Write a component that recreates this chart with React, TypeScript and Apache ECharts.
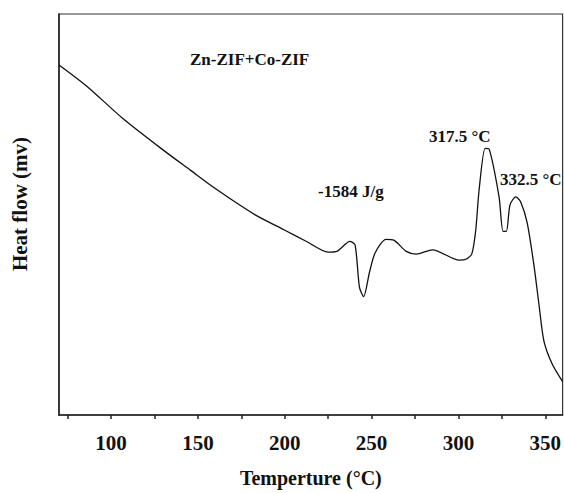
import React, { useEffect, useRef } from "react";
import * as echarts from "echarts";

const temperatures = [
  70, 86, 106.6, 129.3, 145.8, 160.2, 183, 199.5, 212, 225, 230, 237.5, 240.5, 243, 245.4,
  248.8, 252, 258.3, 262.8, 270, 275.7, 285.1, 300.5, 304.7, 307.8, 310, 311.9, 315.4,
  317.7, 323.4, 325.7, 327.6, 329.7, 333, 335.8, 339.6, 343.5, 346.4, 349.2, 354, 360,
];
const heatFlow = [
  8.73, 8.2, 7.4, 6.63, 6.1, 5.64, 4.99, 4.62, 4.34, 4.06, 4.08, 4.33, 4.24, 3.19, 2.95,
  3.56, 4.04, 4.38, 4.36, 4.08, 4.01, 4.12, 3.86, 3.89, 4.03, 4.62, 5.61, 6.65,
  6.63, 5.44, 4.58, 4.58, 5.24, 5.44, 5.32, 4.79, 3.73, 2.75, 1.85, 1.27, 0.83,
];
const majorTicks = [100, 150, 200, 250, 300, 350];
const minorTicks = [75, 100, 125, 150, 175, 200, 225, 250, 275, 300, 325, 350];
const sampleLabel = "Zn-ZIF+Co-ZIF";
const peakLabels = ["317.5 °C", "332.5 °C"];
const enthalpyLabel = "-1584 J/g";
const xTitle = "Temperture (°C)";
const yTitle = "Heat flow (mv)";

const FONT = "'Liberation Serif', 'Times New Roman', serif";

export default function App() {
  const ref = useRef<HTMLDivElement>(null);
  useEffect(() => {
    if (!ref.current) return;
    const chart = echarts.init(ref.current, undefined, { renderer: "svg" });
    const textStyle = (size: number) => ({
      fontFamily: FONT,
      fontWeight: "bold" as const,
      fontSize: size,
      fill: "#111",
    });
    chart.setOption({
      animation: false,
      backgroundColor: "#fff",
      grid: {
        left: 59,
        right: 1,
        top: 14,
        bottom: 71,
        show: true,
        borderColor: "#333",
        borderWidth: 1.2,
        backgroundColor: "transparent",
      },
      xAxis: {
        type: "value",
        min: 70,
        max: 360,
        name: xTitle,
        nameLocation: "middle",
        nameGap: 53,
        nameTextStyle: {
          fontFamily: FONT,
          fontWeight: "bold",
          fontSize: 20,
          color: "#111",
        },
        axisLine: { show: true, lineStyle: { color: "#222", width: 1.5 } },
        axisTick: {
          show: true,
          customValues: minorTicks,
          length: 4,
          lineStyle: { color: "#222", width: 1.5 },
        },
        axisLabel: {
          customValues: majorTicks,
          margin: 17,
          fontFamily: FONT,
          fontWeight: "bold",
          fontSize: 21,
          color: "#111",
        },
        splitLine: { show: false },
      },
      yAxis: {
        type: "value",
        min: 0,
        max: 10,
        axisLine: { show: true, lineStyle: { color: "#222", width: 1.5 } },
        axisTick: { show: false },
        axisLabel: { show: false },
        splitLine: { show: false },
      },
      series: [
        {
          type: "line",
          data: temperatures.map((t, i) => [t, heatFlow[i]]),
          showSymbol: false,
          smooth: 0.25,
          lineStyle: { color: "#111", width: 1.3 },
        },
      ],
      graphic: [
        {
          type: "text",
          x: 20,
          y: 204,
          rotation: Math.PI / 2,
          style: {
            text: yTitle,
            ...textStyle(21),
            align: "center",
            verticalAlign: "middle",
          },
        },
        {
          type: "text",
          left: 190,
          top: 51,
          style: { text: sampleLabel, ...textStyle(17) },
        },
        {
          type: "text",
          left: 318,
          top: 183,
          style: { text: enthalpyLabel, ...textStyle(17) },
        },
        {
          type: "text",
          left: 429,
          top: 128,
          style: { text: peakLabels[0], ...textStyle(17) },
        },
        {
          type: "text",
          left: 500,
          top: 171,
          style: { text: peakLabels[1], ...textStyle(17) },
        },
      ],
    });
    return () => chart.dispose();
  }, []);
  return (
    <div
      ref={ref}
      style={{ position: "fixed", left: 0, top: 0, width: 564, height: 493 }}
    />
  );
}
